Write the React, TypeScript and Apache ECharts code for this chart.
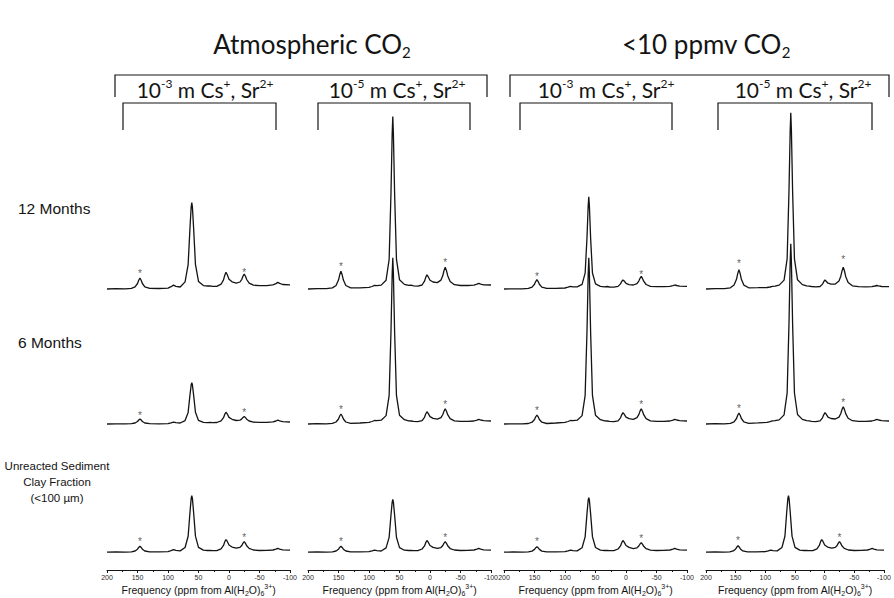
import React, { useEffect, useRef } from "react";
import * as echarts from "echarts";

// chemical shift grid (ppm), shared by all spectra
const PPM = [200,185,170,160,154,150,148,146,144,142,138,130,115,100,95,91,87,80,72,67,64,62,61,60,58,55,50,42,35,31,27,20,13,9,7,5,3,0,-5,-12,-18,-21,-23,-25,-27,-29,-33,-40,-50,-62,-72,-77,-80,-83,-88,-100];

// 12 months
const ATM_E3_12 = [0,0.4,0.2,0.7,2.2,5.5,8.8,11,8.8,5.5,2.2,0.7,0.5,0.9,2.3,3.9,2.7,2.0,7.1,24.4,60.6,82.1,86.4,82.1,60.7,24.7,7.6,3.4,3.0,3.2,2.7,2.6,4.8,9.1,13.6,16.7,14.5,9.8,7.2,5.9,7.0,9.7,12.9,14.9,12.7,9.5,5.8,3.8,3.3,3.4,4.1,5.4,6.6,5.6,4.5,4.1];
const ATM_E5_12 = [0,0.3,0.4,1.1,3.5,8.9,14.2,17.7,14.2,8.9,3.5,1.1,1.2,1.6,2.5,3.6,3.4,3.9,8.8,29.5,95.0,155.2,172.4,155.2,95.1,29.8,9.3,4.6,3.6,3.8,3.2,2.8,4.0,7.8,11.6,14.2,12.3,8.8,7.0,6.4,8.9,13.4,18.5,21.8,18.4,13.3,7.5,4.3,3.5,3.5,3.9,4.8,5.6,4.9,4.2,4.0];
const LOW_E3_12 = [0,0.2,0.2,0.6,1.9,4.7,7.4,9.3,7.4,4.7,1.9,0.6,0.6,1.0,1.8,2.6,2.2,2.2,4.7,15.8,50.8,83.1,92.3,83.1,50.9,16.0,5.1,2.6,2.2,2.5,2.0,1.8,2.6,5.1,7.5,9.1,8.0,5.6,4.4,4.0,5.3,7.9,10.7,12.6,10.6,7.8,4.5,2.7,2.3,2.3,2.7,3.4,4.0,3.5,2.9,2.7];
const LOW_E5_12 = [0,0.3,0.4,1.2,3.9,9.7,15.4,19.3,15.4,9.7,3.9,1.2,1.3,1.5,2.0,2.6,2.9,3.9,8.9,30.1,97.0,158.6,176.2,158.7,97.1,30.2,9.2,4.4,3.1,2.9,2.5,2.1,2.5,4.9,7.3,9.0,7.8,5.8,4.9,5.0,7.9,12.8,18.1,21.7,18.0,12.6,6.6,3.2,2.3,2.1,2.3,3.0,3.5,3.1,2.5,2.3];
// 6 months
const ATM_E3_6 = [0,0.2,0.1,0.3,1.0,2.5,4.0,5.0,4.0,2.5,1.0,0.3,0.2,0.4,1.2,1.9,1.3,1.0,3.4,11.6,28.9,39.2,41.2,39.2,28.9,11.8,3.6,1.7,1.4,1.6,1.4,1.5,3.1,6.3,9.6,11.8,10.2,6.6,4.7,3.5,3.8,5.1,6.6,7.6,6.4,4.8,3.0,1.9,1.6,1.7,2.2,3.0,3.8,3.1,2.4,2.0];
const ATM_E5_6 = [0,0.3,0.2,0.6,2.0,5.0,8.0,10,8.0,5.0,2.0,0.6,1.0,1.6,2.5,3.5,3.3,3.8,8.4,28.4,91.6,149.7,166.3,149.7,91.7,28.6,8.8,4.3,3.1,3.0,2.6,2.4,3.3,6.7,10.0,12.3,10.6,7.4,5.6,4.9,6.4,9.5,12.9,15.2,12.8,9.3,5.4,3.2,2.6,2.6,3.0,3.9,4.7,4.0,3.3,3.0];
const LOW_E3_6 = [0,0.2,0.2,0.5,1.8,4.5,7.2,9.0,7.2,4.5,1.8,0.5,1.0,1.6,2.5,3.5,3.3,3.8,8.4,28.4,91.6,149.7,166.3,149.7,91.7,28.6,8.8,4.3,3.1,3.0,2.6,2.3,3.1,6.2,9.2,11.3,9.8,6.9,5.3,4.7,6.3,9.4,12.9,15.2,12.7,9.3,5.3,3.2,2.6,2.6,3.0,3.9,4.7,4.0,3.3,3.0];
const LOW_E5_6 = [0,0.3,0.2,0.7,2.2,5.5,8.8,11,8.8,5.5,2.2,0.7,1.1,1.6,2.4,3.2,3.3,4.1,9.1,30.8,99.3,162.3,180.3,162.3,99.4,31.0,9.5,4.6,3.3,3.1,2.7,2.4,3.1,6.2,9.2,11.3,9.8,6.9,5.5,5.0,6.9,10.5,14.5,17.2,14.4,10.4,5.8,3.3,2.6,2.6,3.0,3.9,4.7,4.0,3.3,3.0];
// unreacted sediment
const ATM_E3_0 = [0,0.3,0.1,0.4,1.2,3.0,4.8,6.0,4.8,3.0,1.2,0.4,0.3,0.6,1.6,2.6,1.8,1.3,4.7,16.1,40.1,54.4,57.2,54.4,40.1,16.2,4.9,2.1,1.7,1.8,1.6,1.6,3.4,6.8,10.4,12.8,11.1,7.3,5.2,4.0,4.8,6.8,9.1,10.7,8.9,6.5,3.8,2.2,1.7,1.8,2.2,3.0,3.8,3.1,2.4,2.0];
const ATM_E5_0 = [0,0.2,0.1,0.4,1.2,3.0,4.8,6.0,4.8,3.0,1.2,0.4,0.3,0.5,1.3,2.0,1.5,1.2,4.3,15.0,37.3,50.6,53.2,50.6,37.3,15.1,4.6,2.0,1.7,1.7,1.5,1.5,3.2,6.3,9.6,11.8,10.2,6.8,4.9,3.8,4.7,6.7,9.1,10.6,8.9,6.5,3.7,2.2,1.7,1.8,2.2,3.0,3.8,3.1,2.4,2.0];
const LOW_E3_0 = [0,0.2,0.1,0.3,1.1,2.8,4.4,5.5,4.4,2.8,1.1,0.3,0.3,0.5,1.3,2.1,1.5,1.3,4.5,15.5,38.7,52.5,55.2,52.5,38.7,15.7,4.7,2.1,1.7,1.8,1.6,1.6,3.2,6.3,9.6,11.8,10.2,6.7,4.8,3.7,4.4,6.2,8.3,9.6,8.1,5.9,3.5,2.1,1.7,1.8,2.2,3.0,3.8,3.1,2.4,2.0];
const LOW_E5_0 = [0,0.3,0.1,0.4,1.3,3.3,5.2,6.5,5.2,3.3,1.3,0.4,0.3,0.5,1.3,2.1,1.5,1.3,4.7,16.1,40.1,54.4,57.2,54.4,40.1,16.2,4.9,2.1,1.7,1.8,1.6,1.6,3.4,6.8,10.4,12.8,11.1,7.3,5.2,4.0,4.8,6.8,9.1,10.7,8.9,6.5,3.8,2.2,1.7,1.8,2.2,3.0,3.8,3.1,2.4,2.0];

// spinning sideband markers (*): ppm positions and heights
const SSB_PPM = [146, -25];
const SSB_MARK_12 = [[20, 21], [27, 31], [17, 19], [30, 34]];
const SSB_MARK_6 = [[13, 16], [19, 24], [18, 24], [20, 26]];
const SSB_MARK_0 = [[15, 19], [15, 19], [15, 18], [16, 19]];

const X_TICKS = [200, 150, 100, 50, 0, -50, -100];
const ROW_LABELS = ["12 Months", "6 Months"];
const UNREACTED_LABEL = ["Unreacted Sediment", "Clay Fraction", "(<100 µm)"];
const GROUP_TITLES = ["Atmospheric CO{s|2}", "<10 ppmv CO{s|2}"];
const SUB_TITLES = ["10{p|-3} m Cs{p|+}, Sr{p|2+}", "10{p|-5} m Cs{p|+}, Sr{p|2+}", "10{p|-3} m Cs{p|+}, Sr{p|2+}", "10{p|-5} m Cs{p|+}, Sr{p|2+}"];
const X_NAME = "Frequency (ppm from Al(H{s|2}O){s|6}{p|3+})";

const SPECTRA = [
  [ATM_E3_12, ATM_E5_12, LOW_E3_12, LOW_E5_12],
  [ATM_E3_6, ATM_E5_6, LOW_E3_6, LOW_E5_6],
  [ATM_E3_0, ATM_E5_0, LOW_E3_0, LOW_E5_0],
];
const MARKS = [SSB_MARK_12, SSB_MARK_6, SSB_MARK_0];

// layout
const COL_LEFT = [107, 308, 504, 706];
const COL_W = 183;
const ROW_TOP = [99, 234, 372];
const ROW_H = 200;
const ROW_YMIN = [-10, -10, -18];
const ROW_YMAX = [190, 190, 182];

const INK = "#141414";

export default function App() {
  const ref = useRef<HTMLDivElement>(null);
  useEffect(() => {
    if (!ref.current) return;
    const chart = echarts.init(ref.current, null, { renderer: "svg" });
    const grid: any[] = [];
    const xAxis: any[] = [];
    const yAxis: any[] = [];
    const series: any[] = [];
    let idx = 0;
    for (let r = 0; r < 3; r++) {
      for (let c = 0; c < 4; c++) {
        const bottom = r === 2;
        grid.push({ left: COL_LEFT[c], top: ROW_TOP[r], width: COL_W, height: ROW_H, containLabel: false });
        xAxis.push({
          type: "value",
          gridIndex: idx,
          min: -100,
          max: 200,
          interval: 50,
          inverse: true,
          show: bottom,
          axisLine: { show: true, onZero: false, lineStyle: { color: INK, width: 1 } },
          axisTick: { show: true, length: 3, lineStyle: { color: INK, width: 1 } },
          minorTick: { show: true, splitNumber: 2, length: 2, lineStyle: { color: INK, width: 1 } },
          splitLine: { show: false },
          axisLabel: {
            show: true,
            fontSize: 7,
            color: "#2a2a2a",
            margin: 4,
            fontFamily: "Liberation Sans",
            showMinLabel: true,
            showMaxLabel: true,
            formatter: (v: number) => (X_TICKS.includes(v) ? String(v) : ""),
          },
          name: bottom ? X_NAME : "",
          nameLocation: "middle",
          nameGap: 13,
          nameTextStyle: {
            fontSize: 10.5,
            color: INK,
            fontFamily: "Liberation Sans",
            lineHeight: 14,
            rich: {
              s: { fontSize: 7, lineHeight: 9, verticalAlign: "bottom", color: INK, fontFamily: "Liberation Sans" },
              p: { fontSize: 7, lineHeight: 9, verticalAlign: "top", color: INK, fontFamily: "Liberation Sans" },
            },
          },
        });
        yAxis.push({ type: "value", gridIndex: idx, min: ROW_YMIN[r], max: ROW_YMAX[r], show: false, splitLine: { show: false } });
        const vals = SPECTRA[r][c];
        series.push({
          type: "line",
          xAxisIndex: idx,
          yAxisIndex: idx,
          data: PPM.map((p, k) => [p, vals[k]]),
          showSymbol: false,
          symbol: "none",
          silent: true,
          clip: false,
          lineStyle: { color: INK, width: 1.3 },
        });
        series.push({
          type: "scatter",
          xAxisIndex: idx,
          yAxisIndex: idx,
          data: SSB_PPM.map((p, k) => [p, MARKS[r][c][k]]),
          symbol: "circle",
          symbolSize: 0,
          silent: true,
          itemStyle: { color: "#333333" },
          label: {
            show: true,
            formatter: "*",
            position: "top",
            distance: 0,
            fontSize: 10,
            color: "#333333",
            fontFamily: "Liberation Sans",
            offset: [0, 9],
          },
        });
        idx++;
      }
    }

    const graphic: any[] = [];
    const titleRich = { s: { fontSize: 15, lineHeight: 16, verticalAlign: "bottom", fill: INK, fontFamily: "Lato" } };
    const subRich = { p: { fontSize: 12, lineHeight: 12, verticalAlign: "top", fill: INK, fontFamily: "Lato" } };
    const titleX = [312, 706];
    GROUP_TITLES.forEach((t, i) => {
      graphic.push({
        type: "text",
        x: titleX[i],
        y: 44,
        style: { text: t, fontSize: 26, lineHeight: 30, fontFamily: "Lato", fill: INK, align: "center", verticalAlign: "middle", rich: titleRich },
      });
    });
    const subX = [205, 397, 606, 803];
    SUB_TITLES.forEach((t, i) => {
      graphic.push({
        type: "text",
        x: subX[i],
        y: 89,
        style: { text: t, fontSize: 21, lineHeight: 24, fontFamily: "Lato", fill: INK, align: "center", verticalAlign: "middle", rich: subRich },
      });
    });
    // brackets
    const big = [[115, 487], [510, 889]];
    big.forEach(([a, b]) => {
      graphic.push({ type: "polyline", shape: { points: [[a, 97], [a, 75], [b, 75], [b, 97]] }, style: { stroke: INK, lineWidth: 1.2, fill: null } });
    });
    const small = [[123, 276], [318, 470], [520, 672], [718, 872]];
    small.forEach(([a, b]) => {
      graphic.push({ type: "polyline", shape: { points: [[a, 130], [a, 103], [b, 103], [b, 130]] }, style: { stroke: INK, lineWidth: 1.2, fill: null } });
    });
    // row labels
    const rowY = [208, 342];
    ROW_LABELS.forEach((t, i) => {
      graphic.push({ type: "text", x: 18, y: rowY[i], style: { text: t, fontSize: 15.5, fontFamily: "Liberation Sans", fill: INK, align: "left", verticalAlign: "middle" } });
    });
    const unY = [466, 482, 498];
    UNREACTED_LABEL.forEach((t, i) => {
      graphic.push({ type: "text", x: 57, y: unY[i], style: { text: t, fontSize: 11.5, fontFamily: "Liberation Sans", fill: INK, align: "center", verticalAlign: "middle" } });
    });

    chart.setOption({
      animation: false,
      backgroundColor: "#ffffff",
      grid,
      xAxis,
      yAxis,
      series,
      graphic,
    });
    return () => chart.dispose();
  }, []);
  return <div ref={ref} style={{ position: "absolute", left: 0, top: 0, width: 894, height: 598 }} />;
}
